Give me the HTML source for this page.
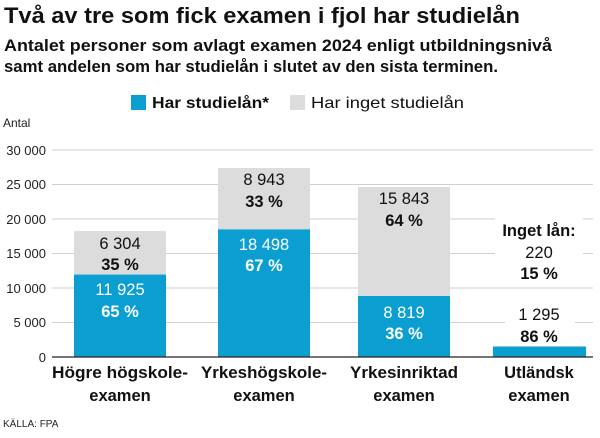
<!DOCTYPE html>
<html><head><meta charset="utf-8"><style>
body{margin:0;background:#fff;width:600px;height:433px;overflow:hidden;font-family:"Liberation Sans",sans-serif;}
</style></head><body>
<svg width="600" height="433" xmlns="http://www.w3.org/2000/svg" font-family="Liberation Sans, sans-serif">
<text x="4" y="23" font-size="22" font-weight="bold" fill="#111" textLength="516" lengthAdjust="spacingAndGlyphs">Två av tre som fick examen i fjol har studielån</text>
<text x="4" y="51" font-size="16.5" fill="#111" font-weight="bold" textLength="548" lengthAdjust="spacingAndGlyphs">Antalet personer som avlagt examen 2024 enligt utbildningsnivå</text>
<text x="4" y="72" font-size="16.5" fill="#111" font-weight="bold" textLength="494" lengthAdjust="spacingAndGlyphs">samt andelen som har studielån i slutet av den sista terminen.</text>
<rect x="131" y="95" width="15" height="15" fill="#0a9fd0"/>
<text x="152" y="108" font-size="16" font-weight="bold" fill="#111" textLength="117" lengthAdjust="spacingAndGlyphs">Har studielån*</text>
<rect x="290" y="95" width="15" height="15" fill="#dcdcdc"/>
<text x="311" y="108" font-size="16" fill="#111" textLength="153" lengthAdjust="spacingAndGlyphs">Har inget studielån</text>
<text x="3" y="127" font-size="12" fill="#222">Antal</text>
<g stroke="#cfcfcf" stroke-width="1">
<line x1="52" x2="593" y1="150" y2="150"/><line x1="52" x2="593" y1="184.5" y2="184.5"/>
<line x1="52" x2="593" y1="219" y2="219"/><line x1="52" x2="593" y1="253.5" y2="253.5"/>
<line x1="52" x2="593" y1="288" y2="288"/><line x1="52" x2="593" y1="322.5" y2="322.5"/>
</g>
<g font-size="13" fill="#222" text-anchor="end">
<text x="46" y="155">30 000</text><text x="46" y="189">25 000</text><text x="46" y="224">20 000</text>
<text x="46" y="258">15 000</text><text x="46" y="293">10 000</text><text x="46" y="327">5 000</text><text x="46" y="362">0</text>
</g>
<rect x="74" y="231" width="92" height="44" fill="#dcdcdc"/><rect x="74" y="274.6" width="92" height="82" fill="#0a9fd0"/>
<rect x="218" y="168" width="92" height="62" fill="#dcdcdc"/><rect x="218" y="229.4" width="92" height="127.3" fill="#0a9fd0"/>
<rect x="358" y="187" width="92" height="110" fill="#dcdcdc"/><rect x="358" y="296" width="92" height="60.7" fill="#0a9fd0"/>
<rect x="493" y="346.5" width="93" height="10" fill="#0a9fd0"/>
<line x1="52" x2="593" y1="357" y2="357" stroke="#222" stroke-width="1.2"/>
<g font-size="16.5" text-anchor="middle">
<text x="120" y="249" fill="#111">6 304</text><text x="120" y="270" fill="#111" font-weight="bold">35 %</text>
<text x="120" y="295" fill="#fff">11 925</text><text x="120" y="317" fill="#fff" font-weight="bold">65 %</text>
<text x="264" y="185" fill="#111">8 943</text><text x="264" y="207" fill="#111" font-weight="bold">33 %</text>
<text x="264" y="250" fill="#fff">18 498</text><text x="264" y="271" fill="#fff" font-weight="bold">67 %</text>
<text x="404" y="204" fill="#111">15 843</text><text x="404" y="226" fill="#111" font-weight="bold">64 %</text>
<text x="404" y="318" fill="#fff">8 819</text><text x="404" y="339" fill="#fff" font-weight="bold">36 %</text>
<rect x="495" y="218" width="88" height="62" fill="#fff"/>
<rect x="505" y="305" width="70" height="40" fill="#fff"/>
<text x="539" y="236" fill="#111" font-weight="bold">Inget lån:</text>
<text x="539" y="258" fill="#111">220</text><text x="539" y="279" fill="#111" font-weight="bold">15 %</text>
<text x="539" y="320" fill="#111">1 295</text><text x="539" y="342" fill="#111" font-weight="bold">86 %</text>
</g>
<g font-size="16.5" fill="#111" text-anchor="middle" font-weight="bold">
<text x="120" y="378" textLength="136" lengthAdjust="spacingAndGlyphs">Högre högskole-</text><text x="120" y="401">examen</text>
<text x="264" y="378" textLength="126" lengthAdjust="spacingAndGlyphs">Yrkeshögskole-</text><text x="264" y="401">examen</text>
<text x="404" y="378" textLength="108" lengthAdjust="spacingAndGlyphs">Yrkesinriktad</text><text x="404" y="401">examen</text>
<text x="539" y="378">Utländsk</text><text x="539" y="401">examen</text>
</g>
<text x="3" y="427" font-size="10" fill="#222">KÄLLA: FPA</text>
</svg>
</body></html>
